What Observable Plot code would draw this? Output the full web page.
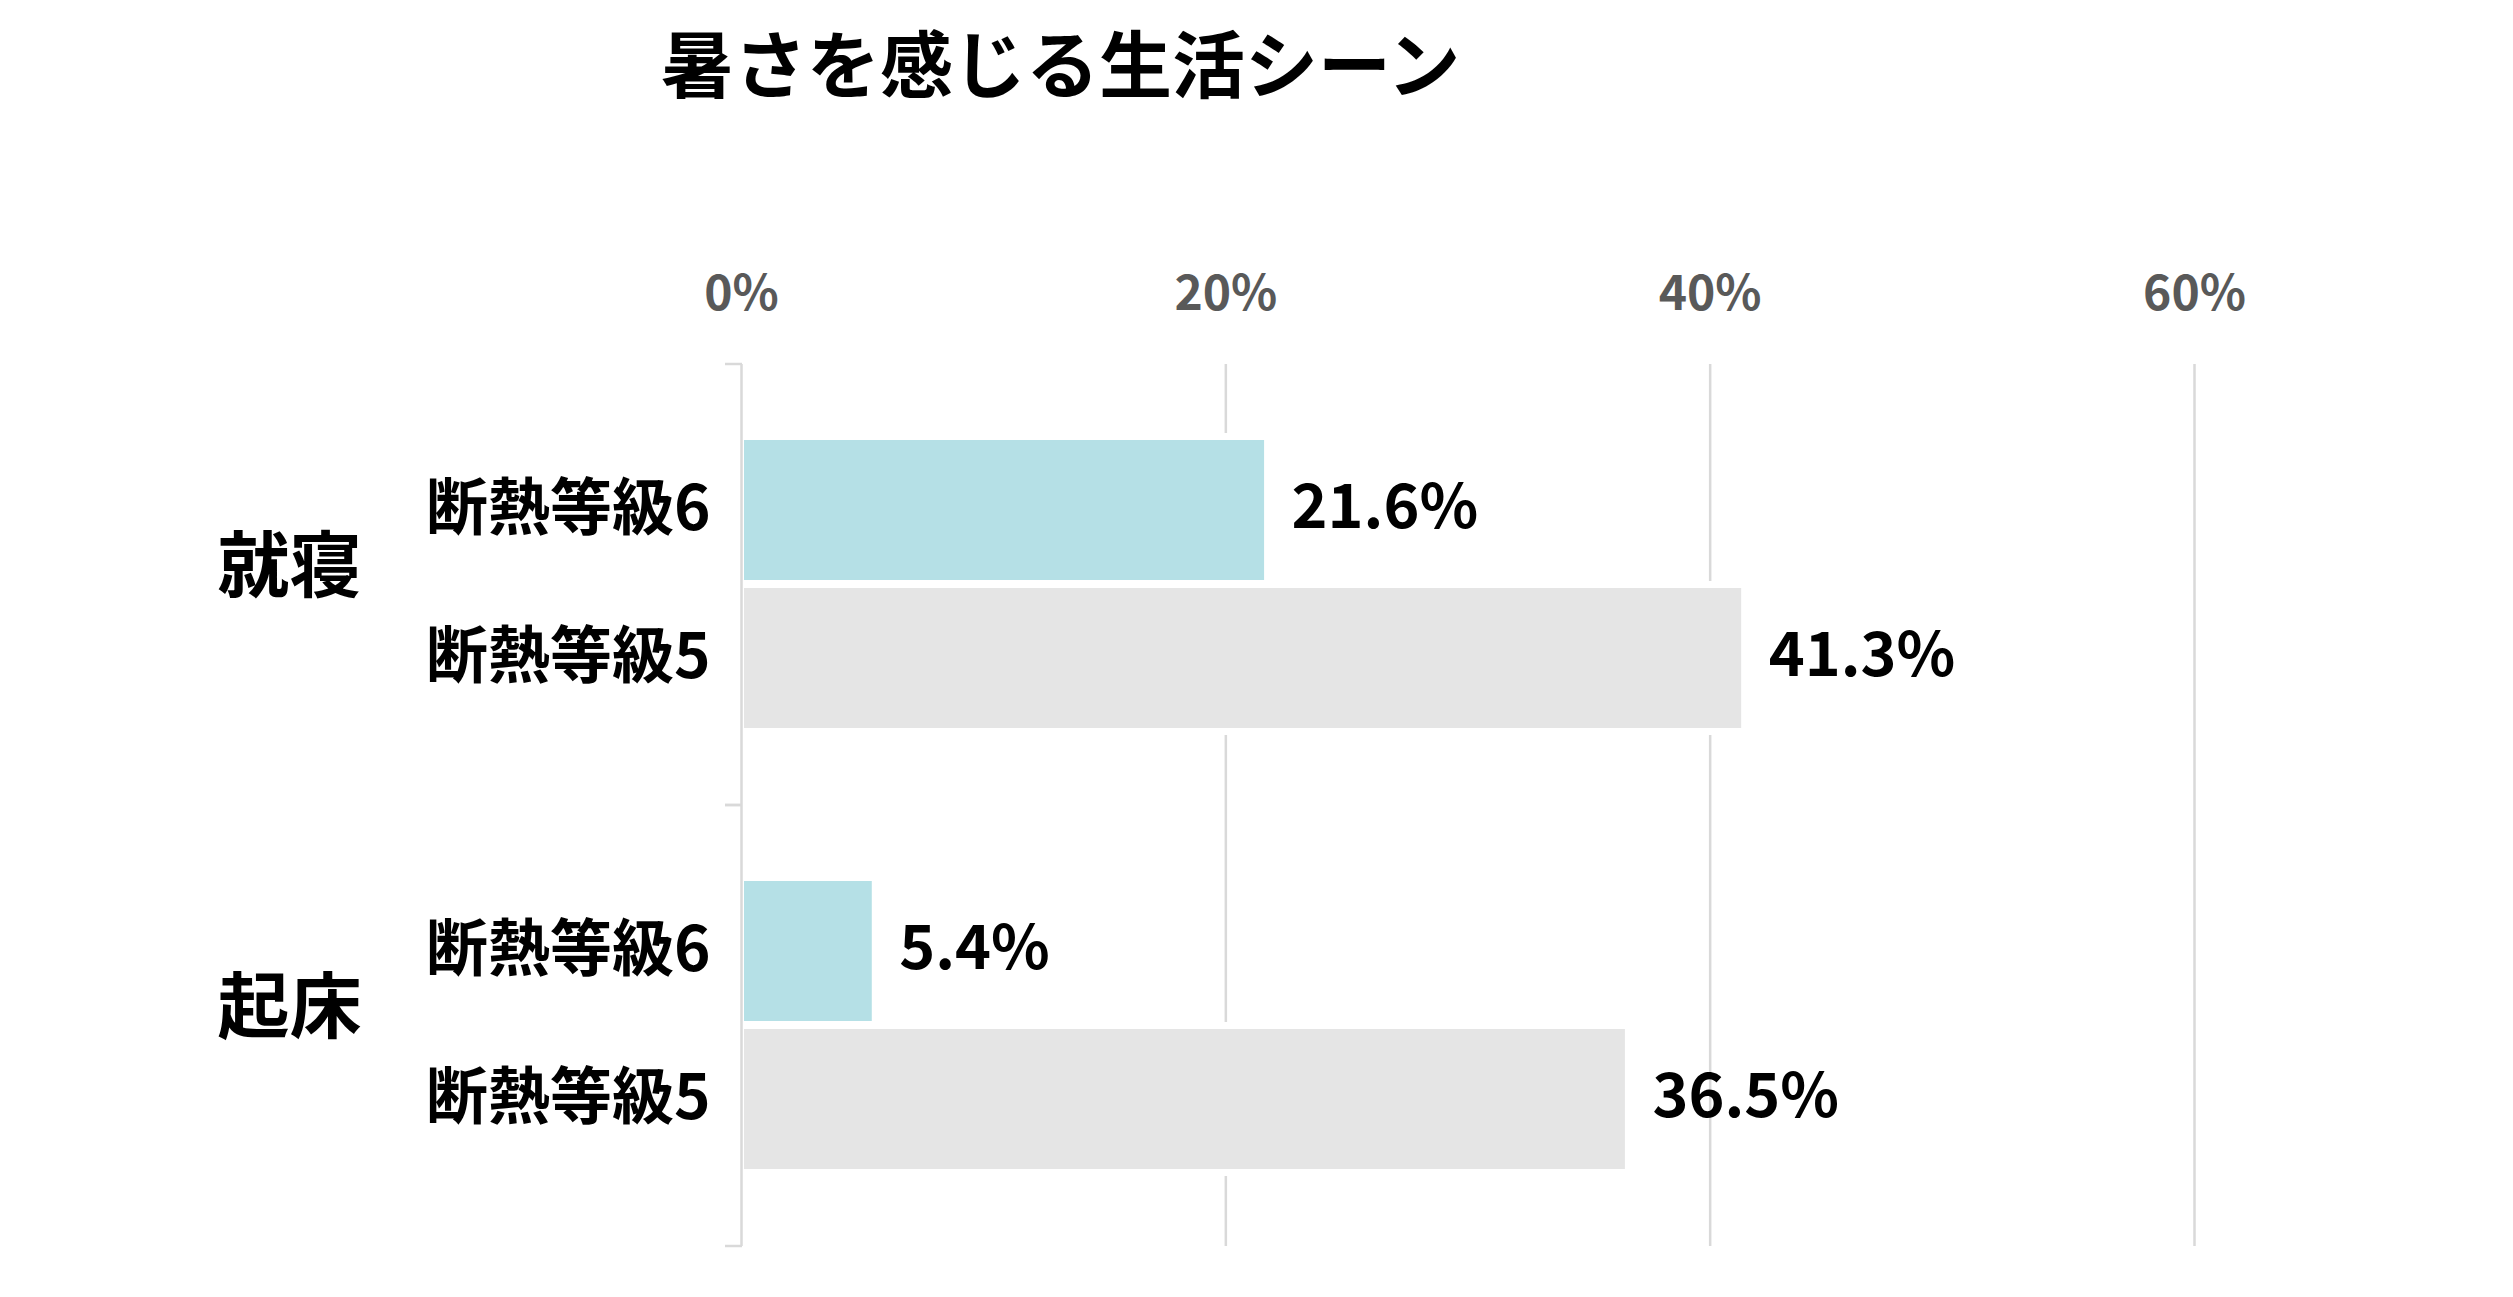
<!DOCTYPE html>
<html>
<head>
<meta charset="utf-8">
<script src="https://cdn.jsdelivr.net/npm/d3@7"></script>
<script src="https://cdn.jsdelivr.net/npm/@observablehq/plot@0.6"></script>
<style>
  body { margin: 0; background: #fff; font-family: "Noto Sans CJK JP", sans-serif; }
  #title { height: 120px; line-height: 120px; font-size: 73px; font-weight: 700; padding-left: 661px; color: #000; white-space: nowrap; }
  #chart svg { display: block; }
  #chart svg g[aria-label^="x-axis"] text { font-size: 48px; font-weight: 700; fill: #595959; }
</style>
</head>
<body>
<div id="title">暑さを感じる生活シーン</div>
<div id="chart"></div>
<script>
// ---- data ----
const groups = ["就寝", "起床"];
const grades = ["断熱等級6", "断熱等級5"];
const sleepValues = [21.6, 41.3];   // 就寝: 断熱等級6, 断熱等級5
const wakeValues = [5.4, 36.5];     // 起床: 断熱等級6, 断熱等級5
const xTicks = [0, 20, 40, 60];
const tickLabels = ["0%", "20%", "40%", "60%"];

const seriesByGroup = [sleepValues, wakeValues];
const rows = groups.flatMap((group, i) =>
  grades.map((grade, j) => ({group, grade, value: seriesByGroup[i][j]}))
);

// axis line boundary ticks drawn at each facet's top and bottom edge
const boundaryTicks = (index, scales, values, dims) => {
  const g = d3.create("svg:g").attr("stroke", "#d9d9d9").attr("stroke-width", 2.5);
  const x0 = scales.x(0);
  for (const yy of [dims.marginTop, dims.height - dims.marginBottom]) {
    g.append("line").attr("x1", x0 - 16).attr("x2", x0 + 1).attr("y1", yy).attr("y2", yy);
  }
  return g.node();
};

const chart = Plot.plot({
  width: 2513,
  height: 1177,
  marginTop: 244,
  marginBottom: 51,
  marginLeft: 741,
  marginRight: 319,
  style: {fontFamily: '"Noto Sans CJK JP", sans-serif', background: "white", overflow: "visible"},
  facet: {data: rows, y: "group"},
  fy: {domain: groups, axis: null, padding: 0},
  y: {domain: grades, axis: null, paddingInner: 0.054, paddingOuter: 0.514},
  x: {domain: [0, 60], axis: "top", ticks: xTicks, tickFormat: (d, i) => tickLabels[xTicks.indexOf(d)], tickSize: 0, tickPadding: 55, label: null},
  color: {domain: grades, range: ["#b5e0e6", "#e5e5e5"]},
  marks: [
    Plot.ruleX(xTicks.filter(d => d > 0), {stroke: "#d9d9d9", strokeWidth: 2.5}),
    Plot.barX(rows, {x: "value", y: "grade", fill: "white", insetTop: -7, insetBottom: -7, insetRight: -7}),
    Plot.barX(rows, {x: "value", y: "grade", fill: "grade", insetLeft: 3}),
    Plot.ruleX([0], {stroke: "#d9d9d9", strokeWidth: 2.5}),
    boundaryTicks,
    Plot.text(rows, {x: "value", y: "grade", text: d => d.value.toFixed(1) + "%", textAnchor: "start", dx: 27, dy: -2, fontSize: 61, fontWeight: 700, fill: "#000"}),
    Plot.text(rows, {y: "grade", text: "grade", frameAnchor: "left", textAnchor: "end", dx: -31, fontSize: 62, fontWeight: 700, fill: "#000"}),
    Plot.text(rows, {filter: d => d.grade === grades[0], text: "group", frameAnchor: "left", textAnchor: "end", dx: -380, dy: -17, fontSize: 72, fontWeight: 700, fill: "#000"})
  ]
});
document.getElementById("chart").appendChild(chart);
</script>
</body>
</html>
